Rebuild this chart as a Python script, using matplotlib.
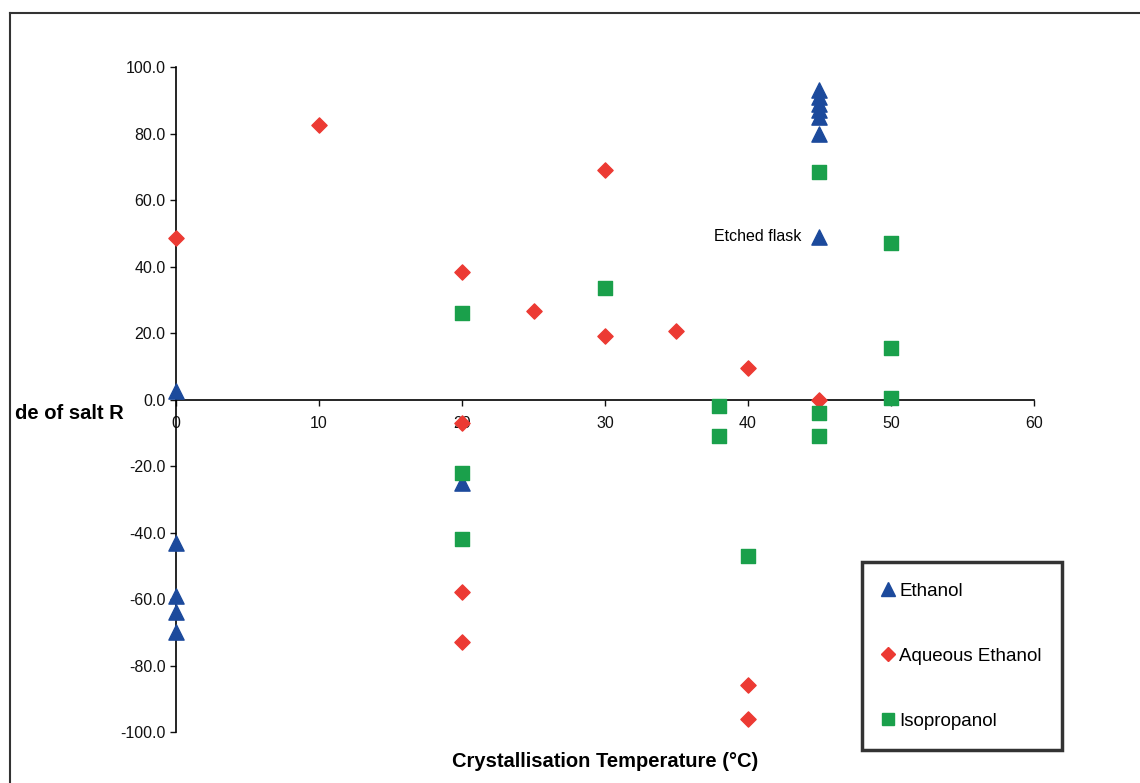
import matplotlib.pyplot as plt
import matplotlib.lines as mlines

plt.rcParams['font.family'] = ['Liberation Sans', 'DejaVu Sans']

# Ethanol
eth_x = [0, 0, 0, 0, 0, 20, 45, 45, 45, 45, 45, 45, 45]
eth_y = [2.5, -43, -59, -64, -70, -25, 93, 91, 89, 87, 85, 80, 49]

# Aqueous Ethanol
aq_x = [0, 10, 20, 20, 20, 20, 25, 30, 30, 35, 40, 40, 40, 45]
aq_y = [48.5, 82.5, 38.5, -7, -58, -73, 26.5, 69, 19, 20.5, 9.5, -86, -96, 0]

# Isopropanol
iso_x = [20, 20, 20, 30, 38, 38, 40, 45, 45, 45, 50, 50, 50]
iso_y = [26, -22, -42, 33.5, -2, -11, -47, 68.5, -4, -11, 47, 15.5, 0.5]

x_ticks = [0, 10, 20, 30, 40, 50, 60]
y_ticks = [-100, -80, -60, -40, -20, 0, 20, 40, 60, 80, 100]

blue = '#1c4a9c'
red = '#ec3a33'
green = '#1aa04b'

fig = plt.figure(figsize=(11.4, 7.83), dpi=100)
ax = fig.add_axes([0.1544, 0.0651, 0.7526, 0.8493])

ax.scatter(eth_x, eth_y, marker='^', s=120, color=blue, zorder=3, clip_on=False)
ax.scatter(aq_x, aq_y, marker='D', s=60, color=red, zorder=3, clip_on=False)
ax.scatter(iso_x, iso_y, marker='s', s=90, color=green, zorder=3, clip_on=False)

ax.set_xlim(0, 60)
ax.set_ylim(-100, 100)
ax.spines['top'].set_visible(False)
ax.spines['right'].set_visible(False)
ax.spines['bottom'].set_position(('data', 0))
ax.spines['left'].set_position(('data', 0))
ax.spines['bottom'].set_linewidth(1.2)
ax.spines['left'].set_linewidth(1.2)

ax.set_xticks(x_ticks)
ax.set_yticks(y_ticks)
ax.set_yticklabels([f'{v:.1f}' for v in y_ticks])
ax.tick_params(axis='both', direction='out', length=4, width=1, labelsize=11.5, colors='#111111')
ax.tick_params(axis='x', pad=8)

ax.text(43.7, 49, 'Etched flask', ha='right', va='center', fontsize=11.5)

fig.text(0.013, 0.472, 'de of salt R', fontsize=14.5, fontweight='bold', ha='left', va='center')
fig.text(0.531, 0.027, 'Crystallisation Temperature (°C)', fontsize=14.5, fontweight='bold',
         ha='center', va='center')

# figure frame (left and top edges)
fig.add_artist(mlines.Line2D([0.009, 0.009], [0.0, 0.983], color='#333333', lw=1.5))
fig.add_artist(mlines.Line2D([0.009, 1.0], [0.983, 0.983], color='#333333', lw=1.5))

handles = [
    mlines.Line2D([], [], marker='^', color=blue, ls='none', markersize=10),
    mlines.Line2D([], [], marker='D', color=red, ls='none', markersize=7.5),
    mlines.Line2D([], [], marker='s', color=green, ls='none', markersize=9),
]
leg = fig.legend(handles, ['Ethanol', 'Aqueous Ethanol', 'Isopropanol'],
                 loc='upper left', bbox_to_anchor=(0.756, 0.282),
                 frameon=True, fancybox=False, fontsize=13.5,
                 labelspacing=2.55, borderpad=1.1, handlelength=0.6,
                 handletextpad=0.3, borderaxespad=0)
leg.get_frame().set_edgecolor('black')
leg.get_frame().set_linewidth(2.5)

fig.savefig('out.png', dpi=100)
